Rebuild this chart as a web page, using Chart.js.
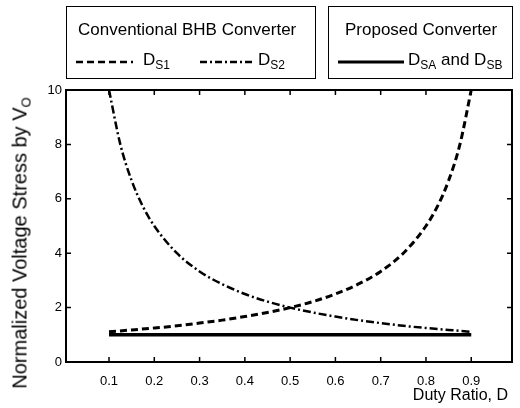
<!DOCTYPE html>
<html>
<head>
<meta charset="utf-8">
<script src="https://cdn.jsdelivr.net/npm/chart.js@4"></script>
<style>
  body { margin: 0; background: #fff; }
  #wrap { position: relative; width: 520px; height: 408px; font-family: "Liberation Sans", Arial, sans-serif; color: #000; }
  #chart { position: absolute; left: 0; top: 0; }
  .box { position: absolute; border: 1.5px solid #000; box-sizing: border-box; }
  .txt { position: absolute; white-space: nowrap; font-size: 17px; line-height: 17px; }
  .txt sub { font-size: 12px; vertical-align: -4px; line-height: 0; }
  #ytitle { position: absolute; left: 20px; top: 243px; transform: translate(-50%, -50%) rotate(-90deg); font-size: 20px; white-space: nowrap; }
  #ytitle sub { font-size: 13px; vertical-align: -4px; line-height: 0; }
  #xtitle { position: absolute; right: 12px; top: 387px; font-size: 16px; line-height: 16px; white-space: nowrap; }
  #legendLines { position: absolute; left: 0; top: 0; }
</style>
</head>
<body>
<div id="wrap">
  <canvas id="chart" width="520" height="408"></canvas>

  <div class="box" style="left:66px; top:6px; width:250px; height:73px;"></div>
  <div class="box" style="left:328px; top:6px; width:185px; height:73px;"></div>
  <svg id="legendLines" width="520" height="90">
    <line x1="76" y1="62" x2="133" y2="62" stroke="#000" stroke-width="2.5" stroke-dasharray="7,4"></line>
    <line x1="200" y1="62" x2="254" y2="62" stroke="#000" stroke-width="2.5" stroke-dasharray="7,3,2,3"></line>
    <line x1="338" y1="62" x2="404" y2="62" stroke="#000" stroke-width="3"></line>
  </svg>
  <div class="txt" style="left:78px; top:21px;">Conventional BHB Converter</div>
  <div class="txt" style="left:345px; top:21px;">Proposed Converter</div>
  <div class="txt" style="left:143px; top:51px;">D<sub>S1</sub></div>
  <div class="txt" style="left:258px; top:51px;">D<sub>S2</sub></div>
  <div class="txt" style="left:408px; top:51px;">D<sub>SA</sub> and D<sub>SB</sub></div>

  <div id="ytitle">Normalized Voltage Stress by V<sub>O</sub></div>
  <div id="xtitle">Duty Ratio, D</div>
</div>

<script>
// duty ratio D and normalized voltage stress
const dutyRatio = [0.1, 0.15, 0.2, 0.25, 0.3, 0.35, 0.4, 0.45, 0.5, 0.55, 0.6, 0.65, 0.7, 0.75, 0.8, 0.825, 0.85, 0.875, 0.9];
const stressS1  = [1.11, 1.18, 1.25, 1.33, 1.43, 1.54, 1.67, 1.82, 2.0, 2.22, 2.5, 2.86, 3.33, 4.0, 5.0, 5.71, 6.67, 8.0, 10.0];
const dutyRatio2 = [0.1, 0.125, 0.15, 0.175, 0.2, 0.25, 0.3, 0.35, 0.4, 0.45, 0.5, 0.55, 0.6, 0.65, 0.7, 0.75, 0.8, 0.85, 0.9];
const stressS2  = [10.0, 8.0, 6.67, 5.71, 5.0, 4.0, 3.33, 2.86, 2.5, 2.22, 2.0, 1.82, 1.67, 1.54, 1.43, 1.33, 1.25, 1.18, 1.11];
const dutyRatioSA = [0.1, 0.9];
const stressSA  = [1.0, 1.0];

const xTicks = [0.1, 0.2, 0.3, 0.4, 0.5, 0.6, 0.7, 0.8, 0.9];
const yTicks = [0, 2, 4, 6, 8, 10];

function toPoints(xs, ys) {
    return xs.map((x, i) => ({ x: x, y: ys[i] }));
}

// frame plus inward tick marks on all four sides
const framePlugin = {
    id: 'frame',
    afterDatasetsDraw(chart) {
        const ctx = chart.ctx;
        const a = chart.chartArea;
        const xs = chart.scales.x;
        const ys = chart.scales.y;
        ctx.save();
        ctx.strokeStyle = '#000';
        ctx.lineWidth = 1.5;
        xTicks.forEach(v => {
            const px = xs.getPixelForValue(v);
            ctx.beginPath();
            ctx.moveTo(px, a.bottom); ctx.lineTo(px, a.bottom - 5);
            ctx.moveTo(px, a.top); ctx.lineTo(px, a.top + 5);
            ctx.stroke();
        });
        yTicks.slice(1, -1).forEach(v => {
            const py = ys.getPixelForValue(v);
            ctx.beginPath();
            ctx.moveTo(a.left, py); ctx.lineTo(a.left + 5, py);
            ctx.moveTo(a.right, py); ctx.lineTo(a.right - 5, py);
            ctx.stroke();
        });
        ctx.lineWidth = 2;
        ctx.strokeRect(a.left, a.top, a.right - a.left, a.bottom - a.top);
        ctx.restore();
    }
};

new Chart(document.getElementById('chart'), {
    type: 'scatter',
    data: {
        datasets: [
            {
                label: 'DS1',
                data: toPoints(dutyRatio, stressS1),
                showLine: true,
                borderColor: '#000',
                borderWidth: 3,
                borderDash: [7, 4],
                pointRadius: 0,
                cubicInterpolationMode: 'monotone'
            },
            {
                label: 'DS2',
                data: toPoints(dutyRatio2, stressS2),
                showLine: true,
                borderColor: '#000',
                borderWidth: 2.5,
                borderDash: [8, 3, 2, 3],
                pointRadius: 0,
                cubicInterpolationMode: 'monotone'
            },
            {
                label: 'DSA and DSB',
                data: toPoints(dutyRatioSA, stressSA),
                showLine: true,
                borderColor: '#000',
                borderWidth: 3.5,
                pointRadius: 0
            }
        ]
    },
    options: {
        responsive: false,
        animation: false,
        layout: { padding: { left: 0, top: 90, right: 8, bottom: 0 } },
        plugins: {
            legend: { display: false },
            tooltip: { enabled: false }
        },
        scales: {
            x: {
                type: 'linear',
                min: 0.005,
                max: 0.99,
                afterFit: s => { s.height = 46; },
                afterBuildTicks: s => { s.ticks = xTicks.map(v => ({ value: v })); },
                grid: { display: false, drawTicks: false },
                border: { display: false },
                ticks: {
                    padding: 12,
                    color: '#000',
                    font: { family: 'Liberation Sans', size: 13 },
                    callback: v => v.toFixed(1)
                }
            },
            y: {
                min: 0,
                max: 10,
                afterFit: s => { s.width = 66; },
                afterBuildTicks: s => { s.ticks = yTicks.map(v => ({ value: v })); },
                grid: { display: false, drawTicks: false },
                border: { display: false },
                ticks: {
                    padding: 4,
                    color: '#000',
                    font: { family: 'Liberation Sans', size: 13 }
                }
            }
        }
    },
    plugins: [framePlugin]
});
</script>
</body>
</html>
